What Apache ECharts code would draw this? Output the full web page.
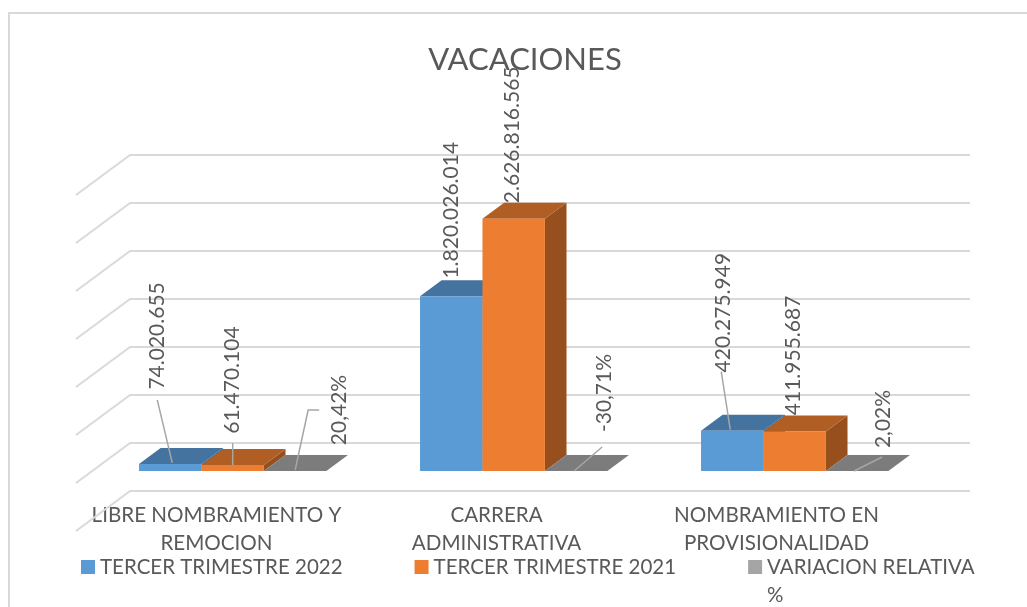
<!DOCTYPE html>
<html>

<head>
    <title>VACACIONES</title>
    <meta charset="utf-8">
    <script src="https://cdn.jsdelivr.net/npm/echarts@6/dist/echarts.min.js"></script>
    <style>
        html, body { margin: 0; padding: 0; background: #fff; }
        #main { width: 1027px; height: 607px; }
    </style>
</head>

<body>
    <div id="main"></div>
</body>
<script>
    var categories = ['LIBRE NOMBRAMIENTO Y\nREMOCION', 'CARRERA\nADMINISTRATIVA', 'NOMBRAMIENTO EN\nPROVISIONALIDAD'];
    var seriesNames = ['TERCER TRIMESTRE 2022', 'TERCER TRIMESTRE 2021', 'VARIACION RELATIVA\n%'];
    var trimestre2022 = [74020655, 1820026014, 420275949];
    var trimestre2021 = [61470104, 2626816565, 411955687];
    var variacion = [0.2042, -0.3071, 0.0202];
    var axisTicks = [-500000000, 0, 500000000, 1000000000, 1500000000, 2000000000, 2500000000, 3000000000];

    // colores: frente, arriba, lado
    var colors = [
        ['#5b9bd5', '#44739f', '#3d6a94'],
        ['#ed7d31', '#b15e24', '#974f1e'],
        ['#a5a5a5', '#7c7c7c', '#6e6e6e']
    ];
    var FONT = 'Lato, "Open Sans", sans-serif';
    var TEXT = '#595959', GRID = '#d9d9d9', LEADER = '#a6a6a6';
    // profundidad de la pared lateral
    var WALL_DX = -54, WALL_DY = 40;
    // el plano de las barras queda un poco mas ancho que la pared del fondo
    var FRONT_SCALE = 281 / 280;

    // etiquetas movidas a mano, relativo al centro superior de la barra: [dx, dy, linea guia]
    var labelShift = [
        [[-13, -128, [[-13, -64], [2, -1]]], [0, -85, [[0, -22], [0, 0]]], [44, -61, [[24, -61], [13, -61], [0, -1]]]],
        [[0, -86, null], [-1, -84, null], [28, -78, [[26, -24], [-2, 0]]]],
        [[-9, -118, [[-11, -59], [-2, -1]]], [-1, -76, null], [26, -52, [[25, -14], [-3, 0]]]]
    ];

    function fmtMoney(v) {
        return String(v).replace(/\B(?=(\d{3})+$)/g, '.');
    }
    function fmtPct(v) {
        return (v * 100).toFixed(2).replace('.', ',') + '%';
    }

    // barra 3D: caja dentro del piso, entre 0.3 y 0.7 de la pared lateral
    function barRender(sIdx, fmt) {
        return function (params, api) {
            var cat = api.value(0), val = api.value(1);
            var size = api.size([1, 0])[0];
            var w = size * FRONT_SCALE / 4.5;
            var base = api.coord([cat, 0]), top = api.coord([cat, val]);
            var left = api.coord([0, 0])[0] - size / 2;
            var cx = left + (base[0] - left) * FRONT_SCALE;
            var x0 = cx + (sIdx - 1.5) * w + WALL_DX * 0.7;
            var x1 = x0 + w;
            var yB = base[1] + WALL_DY * 0.7, yT = top[1] + WALL_DY * 0.7;
            var dx = -WALL_DX * 0.4, dy = -WALL_DY * 0.4;
            var c = colors[sIdx];
            var kids = [
                { type: 'polygon', shape: { points: [[x1, yB], [x1 + dx, yB + dy], [x1 + dx, yT + dy], [x1, yT]] }, style: { fill: c[2] } },
                { type: 'polygon', shape: { points: [[x0, yT], [x1, yT], [x1 + dx, yT + dy], [x0 + dx, yT + dy]] }, style: { fill: c[1] } },
                { type: 'rect', shape: { x: x0, y: yT, width: w, height: yB - yT }, style: { fill: c[0] } }
            ];
            var ax = (x0 + x1) / 2, s = labelShift[cat][sIdx];
            if (s[2]) {
                kids.push({
                    type: 'polyline',
                    shape: { points: s[2].map(function (p) { return [ax + p[0], yT + p[1]]; }) },
                    style: { stroke: LEADER, lineWidth: 1.5, fill: null }
                });
            }
            kids.push({
                type: 'text', x: ax + s[0], y: yT + s[1], rotation: Math.PI / 2,
                style: { text: fmt(val), fill: TEXT, font: '21px ' + FONT, align: 'center', verticalAlign: 'middle' }
            });
            return { type: 'group', children: kids };
        };
    }

    function toRows(arr) {
        return arr.map(function (v, i) { return [i, v]; });
    }

    var myChart = echarts.init(document.getElementById('main'));
    myChart.setOption({
        animation: false,
        title: {
            text: 'VACACIONES', left: 520, top: 39, textAlign: 'center',
            textStyle: { color: TEXT, fontFamily: FONT, fontSize: 31, fontWeight: 'normal' }
        },
        legend: {
            left: 81, top: 525, padding: 0, itemWidth: 14, itemHeight: 14, itemGap: 72,
            icon: 'rect',
            textStyle: { color: TEXT, fontFamily: FONT, fontSize: 20.5, lineHeight: 28 },
            // linea en blanco arriba para que la primera linea de texto quede al lado del cuadro
            formatter: function (name) {
                return name.indexOf('\n') >= 0 ? ' \n' + name : name;
            },
            data: seriesNames
        },
        grid: { left: 130, right: 57, top: 155, bottom: 116 },
        xAxis: {
            type: 'category', data: categories,
            axisLine: { show: false, onZero: false }, axisTick: { show: false },
            axisLabel: {
                color: TEXT, fontFamily: FONT, fontSize: 20.6, lineHeight: 28, margin: 10,
                padding: [0, 107, 0, 0], interval: 0
            }
        },
        yAxis: {
            type: 'value', min: axisTicks[0], max: axisTicks[axisTicks.length - 1], interval: 500000000,
            axisLabel: { show: false }, axisLine: { show: false }, axisTick: { show: false },
            splitLine: { show: true, lineStyle: { color: GRID, width: 2 } }
        },
        graphic: [{
            type: 'rect', silent: true, z: -1,
            shape: { x: 9, y: 13, width: 1030, height: 610 },
            style: { fill: null, stroke: GRID, lineWidth: 2 }
        }],
        series: [
            {
                // pared lateral
                type: 'custom', silent: true, data: axisTicks, encode: { y: 0 }, z: 1,
                renderItem: function (params, api) {
                    var p = api.coord([0, api.value(0)]);
                    var x = p[0] - api.size([1, 0])[0] / 2;
                    return {
                        type: 'line',
                        shape: { x1: x, y1: p[1], x2: x + WALL_DX, y2: p[1] + WALL_DY },
                        style: { stroke: GRID, lineWidth: 2 }
                    };
                }
            },
            { name: seriesNames[0], type: 'custom', data: toRows(trimestre2022), itemStyle: { color: colors[0][0] }, z: 2, renderItem: barRender(0, fmtMoney) },
            { name: seriesNames[1], type: 'custom', data: toRows(trimestre2021), itemStyle: { color: colors[1][0] }, z: 3, renderItem: barRender(1, fmtMoney) },
            { name: seriesNames[2], type: 'custom', data: toRows(variacion), itemStyle: { color: colors[2][0] }, z: 4, renderItem: barRender(2, fmtPct) }
        ]
    });
</script>

</html>
